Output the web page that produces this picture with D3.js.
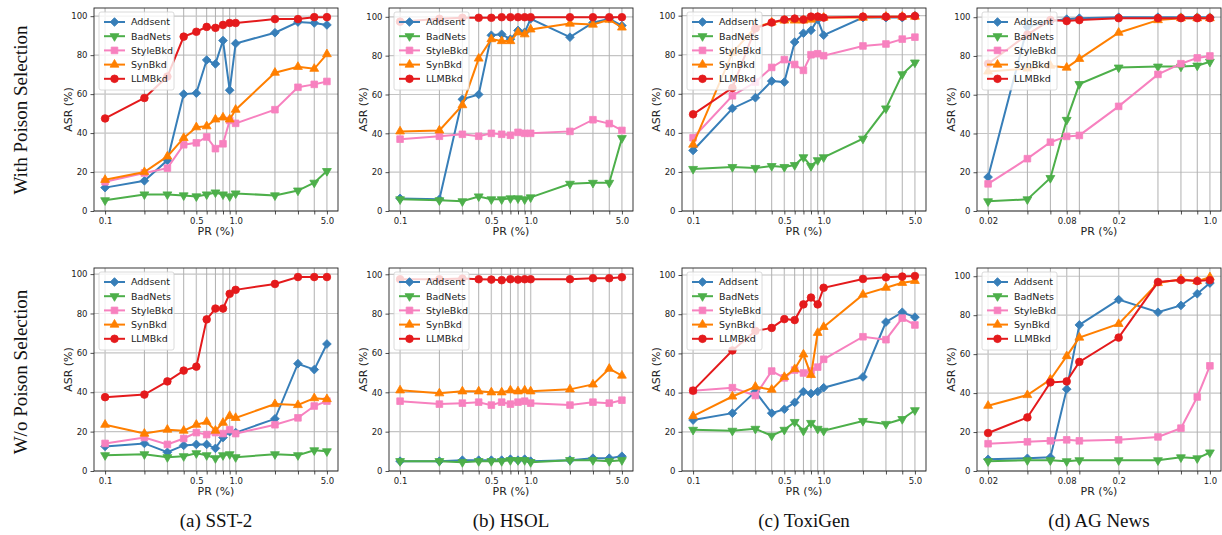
<!DOCTYPE html>
<html><head><meta charset="utf-8">
<script src="https://cdn.jsdelivr.net/npm/d3@7"></script>
<style>body{margin:0;background:#fff} svg{display:block}</style>
</head><body>
<svg id="c" width="1222" height="535"></svg>
<script>
// ---------- data ----------
const seriesNames = ["Addsent", "BadNets", "StyleBkd", "SynBkd", "LLMBkd"];
const prMain = [0.1,0.2,0.3,0.4,0.5,0.6,0.7,0.8,0.9,1.0,2,3,4,5];
const prAG = [0.02,0.04,0.06,0.08,0.1,0.2,0.4,0.6,0.8,1.0];
const tickLabelsMain = [0.1, 0.5, 1.0, 5.0];
const tickLabelsAG = [0.02, 0.08, 0.2, 1.0];
const yTicks = [0,20,40,60,80,100];
const rowLabels = ["With Poison Selection", "W/o Poison Selection"];
const captions = ["(a) SST-2", "(b) HSOL", "(c) ToxiGen", "(d) AG News"];

// With poison selection
const sst2WAddsent = [12,15.5,26,60,60.5,77.5,75.5,87.5,62,86,91.5,97,96.5,95.5];
const sst2WBadNets = [5.5,8.5,8.5,8,7.5,8.5,9.5,8.5,7.5,9,8,10.5,14.5,20.5];
const sst2WStyleBkd = [15,19.5,22,34,35,38,32,34.5,46.5,45,52,63.5,65,66.5];
const sst2WSynBkd = [16,20,28,37.5,43,43.5,47,48,47,52,71,74,73,80.5];
const sst2WLLMBkd = [47.5,58,69,89.5,92,94.5,94,95.5,96.5,96.5,98.5,98.5,99.5,99.5];

const hsolWAddsent = [6.5,6,57.5,60,90.5,91,88.5,93,92,99,89.5,97,99,95.5];
const hsolWBadNets = [6,5.5,5,7.5,6,6,6.5,6.5,6,7,14,14.5,14.5,37.5];
const hsolWStyleBkd = [37,38.5,39.5,38.5,40,39.5,39,40.5,40,40,41,47,45,41.5];
const hsolWSynBkd = [41,41.5,54.5,78.5,88.5,87.5,87.5,92,91,93.5,96.5,96,98.5,94.5];
const hsolWLLMBkd = [97.5,99,99.5,99.5,99.5,99.8,99.8,99.8,99.8,99.8,99.8,99.8,99.8,99.8];

const toxWAddsent = [31,52.5,58,66.5,66,86.5,91,92.5,98,90,99,99,99,100];
const toxWBadNets = [21.5,22.5,22,23,22.5,23.5,27.5,23,26,27.5,37,52.5,70,76];
const toxWStyleBkd = [37.5,59,66,73.5,77.5,75,72,80,80.5,79.5,84.5,85.5,88,89];
const toxWSynBkd = [34,81,94,96.5,97.5,97.5,97.5,98,99,99,99,99.5,99.5,99.5];
const toxWLLMBkd = [49.5,63,93.5,96.5,98,98.5,98,99.5,99.5,99,99.5,99.5,99.5,99.8];

const agWAddsent = [17.5,95,98,99,99.5,100,100,100,100,100];
const agWBadNets = [5,6,17,47,65.5,74,74.5,74.5,75,77];
const agWStyleBkd = [14,27,35.5,38.5,39,54,70.5,76,79,80];
const agWSynBkd = [72,73.5,75,74,78.5,92,98.5,99.5,99.5,99.5];
const agWLLMBkd = [76,91,98.5,98,98.5,99.5,99.5,99.5,99.5,99.5];

// Without poison selection
const sst2OAddsent = [12.5,14,9.5,13,13.5,13.5,11.5,17,20,19.5,26.5,54.5,51.5,64.5];
const sst2OBadNets = [8,8.5,7,7.5,9,8,6.5,8,8.5,7,8.5,8,10.5,10];
const sst2OStyleBkd = [14,17,13.5,16.5,19.5,18.5,19.5,19,21,19,23.5,27,33,35.5];
const sst2OSynBkd = [23.5,19,21,20.5,23.5,25,20.5,24.5,28,27,34,33.5,37,36.5];
const sst2OLLMBkd = [37.5,38.8,45.5,51,53,77,82.5,82.5,90,92,95,98.5,98.5,98.5];

const hsolOAddsent = [5,5,5.5,5.5,5.5,5.5,6,5.5,6,5,5.5,6.5,6.5,7.5];
const hsolOBadNets = [5,5,4.5,5,5,5,5.5,5.5,5.5,4.5,5.5,5.5,5,5.5];
const hsolOStyleBkd = [35.5,34,34.5,35,33.5,35,34,35,35.5,34.5,33.5,35,34.5,36];
const hsolOSynBkd = [41,39.5,40.5,40.5,40,40,41,40.5,41,40.5,41.5,44,52,48.5];
const hsolOLLMBkd = [97.5,97.5,97.8,97.5,97.3,97,97.5,97.3,97.5,97.5,97.5,98,98,98.5];

const toxOAddsent = [26,29.5,40.5,29.5,31.5,35,40.5,39.5,40.5,42.5,48,76,81,78.5];
const toxOBadNets = [21,20.5,21.5,18,21,25,20.5,24.5,21.5,20.5,25.5,24,26.5,31];
const toxOStyleBkd = [41,42.5,38.5,51,47.5,51.5,50,51,53,57,68.5,67,78,74.5];
const toxOSynBkd = [28,38,43,41.5,48,52,59.5,49,70.5,73.5,90,93.5,96,97];
const toxOLLMBkd = [41,61.5,71.5,73,77.5,77,85,88.5,85,93.5,98,98.8,99.2,99.5];

const agOAddsent = [6,6.5,7,42,75,88,81.5,85,91,96.5];
const agOBadNets = [5,5.5,5.5,5,5.5,5.5,5.5,7,6.5,9.5];
const agOStyleBkd = [14,15,15.5,16,15.5,16,17.5,22,38,54];
const agOSynBkd = [33.5,39,47,59,68.5,75.5,96.5,98.5,97.5,99.5];
const agOLLMBkd = [19.5,27.5,45.5,46,56,68.5,97,98,97.5,98];

// ---------- style ----------
const colors = ["#377eb8", "#4daf4a", "#f781bf", "#ff7f00", "#e41a1c"];
const markerKinds = ["diamond", "tridown", "square", "triup", "circle"];

const panels = [
  {row:0,col:0,x:prMain,ticks:tickLabelsMain,s:[sst2WAddsent,sst2WBadNets,sst2WStyleBkd,sst2WSynBkd,sst2WLLMBkd]},
  {row:0,col:1,x:prMain,ticks:tickLabelsMain,s:[hsolWAddsent,hsolWBadNets,hsolWStyleBkd,hsolWSynBkd,hsolWLLMBkd]},
  {row:0,col:2,x:prMain,ticks:tickLabelsMain,s:[toxWAddsent,toxWBadNets,toxWStyleBkd,toxWSynBkd,toxWLLMBkd]},
  {row:0,col:3,x:prAG,ticks:tickLabelsAG,s:[agWAddsent,agWBadNets,agWStyleBkd,agWSynBkd,agWLLMBkd]},
  {row:1,col:0,x:prMain,ticks:tickLabelsMain,s:[sst2OAddsent,sst2OBadNets,sst2OStyleBkd,sst2OSynBkd,sst2OLLMBkd]},
  {row:1,col:1,x:prMain,ticks:tickLabelsMain,s:[hsolOAddsent,hsolOBadNets,hsolOStyleBkd,hsolOSynBkd,hsolOLLMBkd]},
  {row:1,col:2,x:prMain,ticks:tickLabelsMain,s:[toxOAddsent,toxOBadNets,toxOStyleBkd,toxOSynBkd,toxOLLMBkd]},
  {row:1,col:3,x:prAG,ticks:tickLabelsAG,s:[agOAddsent,agOBadNets,agOStyleBkd,agOSynBkd,agOLLMBkd]},
];

const lefts = [94, 389, 682, 977];
const tops = [8, 268];
const W = 244, H = 203;
const font = "'DejaVu Sans', sans-serif";
const serif = "'Liberation Serif', 'Times New Roman', serif";

const svg = d3.select("#c");

function drawMarker(g, kind, cx, cy, color) {
  let path, rot = 0;
  if (kind === "diamond") { path = d3.symbol(d3.symbolSquare, 38)(); rot = 45; }
  else if (kind === "square") { path = d3.symbol(d3.symbolSquare, 44)(); }
  else if (kind === "circle") { path = d3.symbol(d3.symbolCircle, 46)(); }
  else if (kind === "triup") { path = d3.symbol(d3.symbolTriangle, 34)(); }
  else { path = d3.symbol(d3.symbolTriangle, 34)(); rot = 180; }
  g.append("path").attr("d", path)
    .attr("transform", `translate(${cx},${cy}) rotate(${rot})`)
    .attr("fill", color).attr("stroke", color).attr("stroke-width", 0.8);
}

panels.forEach(p => {
  const L = lefts[p.col], T = tops[p.row], B = T + H, R = L + W;
  const xmin = d3.min(p.x), xmax = d3.max(p.x);
  const m = 0.05 * Math.log10(xmax / xmin);
  const x = d3.scaleLog().domain([xmin / Math.pow(10, m), xmax * Math.pow(10, m)]).range([L, R]);
  const all = p.s.flat();
  const ymin = d3.min(all), ymax = d3.max(all);
  const y = d3.scaleLinear().domain([0, ymax + 0.05 * (ymax - ymin)]).range([B, T]);
  const g = svg.append("g");

  // grid
  g.selectAll(".hg").data(yTicks).join("line")
    .attr("x1", L).attr("x2", R).attr("y1", d => y(d)).attr("y2", d => y(d))
    .attr("stroke", "#c4c4c4").attr("stroke-width", 1.2);
  g.selectAll(".vg").data(p.x).join("line")
    .attr("x1", d => x(d)).attr("x2", d => x(d)).attr("y1", T).attr("y2", B)
    .attr("stroke", d => p.ticks.includes(d) ? "#c8c8c8" : "#b0b0b0")
    .attr("stroke-width", d => p.ticks.includes(d) ? 1.4 : 1);

  // axes
  const xAxis = d3.axisBottom(x).tickValues(p.x).tickSize(3.5).tickPadding(3)
    .tickFormat(d => p.ticks.includes(d) ? (d >= 0.1 ? d.toFixed(1) : d.toFixed(2)) : "");
  const gx = g.append("g").attr("transform", `translate(0,${B})`).call(xAxis);
  const yAxis = d3.axisLeft(y).tickValues(yTicks).tickSize(3.5).tickPadding(3);
  const gy = g.append("g").attr("transform", `translate(${L},0)`).call(yAxis);
  [gx, gy].forEach(a => {
    a.select(".domain").remove();
    a.selectAll("line").attr("stroke", "#222").attr("stroke-width", 0.8);
    a.selectAll("text").attr("font-family", font).attr("font-size", 8.5).attr("fill", "#222");
  });
  g.append("rect").attr("x", L).attr("y", T).attr("width", W).attr("height", H)
    .attr("fill", "none").attr("stroke", "#222").attr("stroke-width", 0.9);

  // axis labels
  g.append("text").attr("x", (L + R) / 2).attr("y", B + 24).attr("text-anchor", "middle")
    .attr("font-family", font).attr("font-size", 11).attr("fill", "#222").text("PR (%)");
  g.append("text").attr("transform", `translate(${L - 22},${(T + B) / 2}) rotate(-90)`)
    .attr("text-anchor", "middle").attr("font-family", font).attr("font-size", 11)
    .attr("fill", "#222").text("ASR (%)");

  // series
  const line = d3.line().x(d => x(d[0])).y(d => y(d[1]));
  p.s.forEach((vals, i) => {
    const pts = p.x.map((xv, k) => [xv, vals[k]]);
    g.append("path").attr("d", line(pts)).attr("fill", "none")
      .attr("stroke", colors[i]).attr("stroke-width", 2);
    pts.forEach(pt => drawMarker(g, markerKinds[i], x(pt[0]), y(pt[1]), colors[i]));
  });

  // legend
  const lx = L + 5, ly = T + 4;
  const lg = g.append("g");
  lg.append("rect").attr("x", lx).attr("y", ly).attr("width", 75).attr("height", 78)
    .attr("rx", 2).attr("fill", "#fff").attr("fill-opacity", 0.8)
    .attr("stroke", "#d0d0d0").attr("stroke-width", 0.8);
  seriesNames.forEach((nm, i) => {
    const yy = ly + 10 + i * 14.2;
    lg.append("line").attr("x1", lx + 5).attr("x2", lx + 26).attr("y1", yy).attr("y2", yy)
      .attr("stroke", colors[i]).attr("stroke-width", 2);
    drawMarker(lg, markerKinds[i], lx + 15.5, yy, colors[i]);
    lg.append("text").attr("x", lx + 32).attr("y", yy).attr("dy", "0.35em")
      .attr("font-family", font).attr("font-size", 9.5).attr("fill", "#222").text(nm);
  });
});

// row labels
[110, 372].forEach((cy, i) => {
  svg.append("text").attr("transform", `translate(27,${cy}) rotate(-90)`)
    .attr("text-anchor", "middle").attr("font-family", serif).attr("font-size", 19)
    .attr("fill", "#111").text(rowLabels[i]);
});
// captions
captions.forEach((c, i) => {
  svg.append("text").attr("x", lefts[i] + W / 2).attr("y", 527).attr("text-anchor", "middle")
    .attr("font-family", serif).attr("font-size", 19).attr("fill", "#111").text(c);
});
</script>
</body></html>
